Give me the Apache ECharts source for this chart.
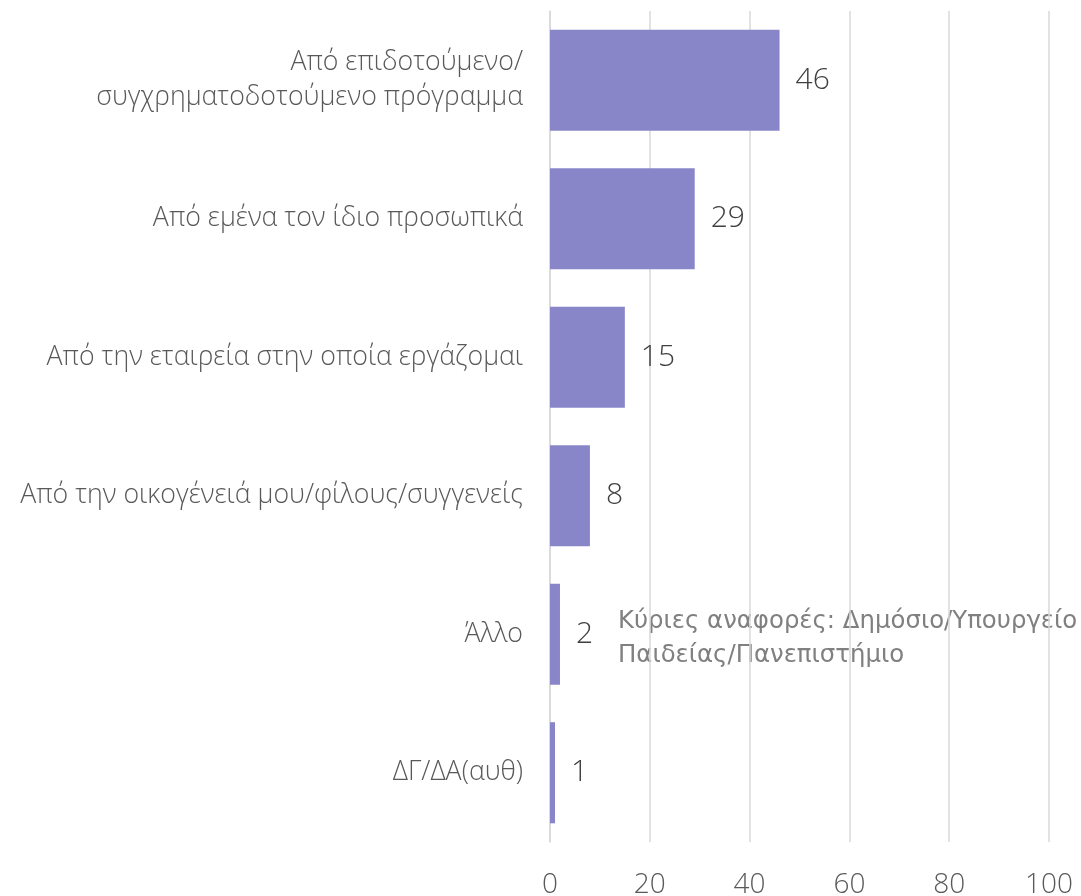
<!DOCTYPE html>
<html><head><meta charset="utf-8">
<script src="https://cdn.jsdelivr.net/npm/echarts@6/dist/echarts.min.js"></script>
<style>html,body{margin:0;padding:0;background:#fff}#c{width:1081px;height:896px}</style>
</head><body><div id="c"></div>
<script>
const categories = [
  "Από επιδοτούμενο/\nσυγχρηματοδοτούμενο πρόγραμμα",
  "Από εμένα τον ίδιο προσωπικά",
  "Από την εταιρεία στην οποία εργάζομαι",
  "Από την οικογένειά μου/φίλους/συγγενείς",
  "Άλλο",
  "ΔΓ/ΔΑ(αυθ)"
];
const values = [46, 29, 15, 8, 2, 1];
const axisMin = 0, axisMax = 100, axisStep = 20;
const noteText = "Κύριες αναφορές: Δημόσιο/Υπουργείο\nΠαιδείας/Πανεπιστήμιο";

const chart = echarts.init(document.getElementById('c'), null, {renderer:'canvas'});
chart.setOption({
  animation:false,
  grid:{left:550, right:32, top:11, bottom:54, containLabel:false, outerBoundsMode:'none'},
  xAxis:{type:'value', min:axisMin, max:axisMax, interval:axisStep,
    axisLine:{show:false}, axisTick:{show:false},
    splitLine:{show:true, lineStyle:{color:'#d9d9d9', width:1.5}},
    axisLabel:{fontFamily:'Open Sans', fontWeight:300, fontSize:28, color:'#595959', margin:29}},
  yAxis:{type:'category', data:categories, inverse:true,
    axisLine:{show:true, lineStyle:{color:'#d9d9d9', width:1.5}}, axisTick:{show:false},
    axisLabel:{fontFamily:'Open Sans', fontWeight:300, fontSize:26.7, color:'#595959', margin:27, lineHeight:35, align:'right'}},
  series:[{type:'bar', data:values, barCategoryGap:'27%',
    itemStyle:{color:'#8886C9'},
    label:{show:true, position:'right', distance:16, fontFamily:'Open Sans', fontWeight:300, fontSize:30, color:'#404040'}}],
  graphic:[{type:'text', left:618, top:605,
    style:{text:noteText, fontFamily:'DejaVu Sans', fontSize:24.4, lineHeight:34, fill:'#808080'}}]
});
</script></body></html>
